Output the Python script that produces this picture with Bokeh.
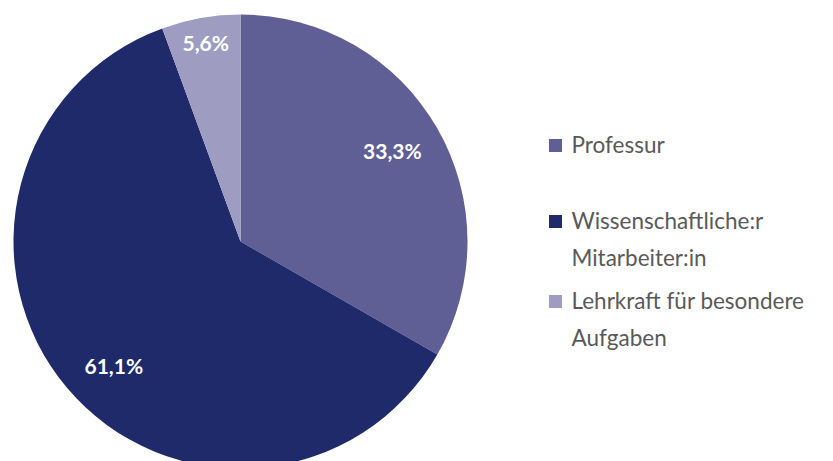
import numpy as np
from bokeh.plotting import figure
from bokeh.models import Range1d
from bokeh.core.properties import value
from bokeh.embed import file_html
from bokeh.resources import INLINE

# ---- data ----
categories = ["Professur", "Wissenschaftliche:r\nMitarbeiter:in", "Lehrkraft für besondere\nAufgaben"]
shares = [33.3, 61.1, 5.6]
labels = ["33,3%", "61,1%", "5,6%"]
colors = ["#5F5F95", "#1E2A6A", "#9E9DC1"]

# ---- layout (style) ----
W, H = 833, 461
label_rf = [0.773, 0.79, 0.875]          # label radius fraction
label_dang = [0.0, 4.9, 0.0]             # label angle tweak (deg)
legend_first_baseline = [144, 220, 300]  # screen px
line_gap = 37

def sx(X):
    return X

def sy(Y):
    return H - Y

p = figure(width=W, height=H, x_range=Range1d(0, W), y_range=Range1d(0, H),
           output_backend="svg", toolbar_location=None, min_border=0)
p.axis.visible = False
p.grid.visible = False
p.outline_line_color = None
p.background_fill_color = "white"
p.border_fill_color = "white"

cx, cy, R = sx(240), sy(241), 227
frac = np.array(shares) / sum(shares)
cum = np.concatenate([[0.0], np.cumsum(frac)])
start = np.pi / 2 - 2 * np.pi * cum[:-1]
end = np.pi / 2 - 2 * np.pi * cum[1:]

p.wedge(x=cx, y=cy, radius=R, start_angle=list(start), end_angle=list(end),
        direction="clock", fill_color=colors, line_color=None)

mid = (start + end) / 2 + np.radians(label_dang)
lx = cx + R * np.array(label_rf) * np.cos(mid)
ly = cy + R * np.array(label_rf) * np.sin(mid) + 3
p.text(x=list(lx), y=list(ly), text=labels, text_color="white",
       text_font=value("Lato"), text_font_style="bold", text_font_size="21px",
       text_align="center", text_baseline="middle")

# legend
sq_x, sq_y = [], []
tx, ty, tt = [], [], []
for i, cat in enumerate(categories):
    b = legend_first_baseline[i]
    sq_x.append(sx(555))
    sq_y.append(sy(b + 1))
    for j, line in enumerate(cat.split("\n")):
        tx.append(sx(571))
        ty.append(sy(b + j * line_gap))
        tt.append(line)
p.scatter(x=sq_x, y=sq_y, marker="square", size=13, fill_color=colors, line_color=None)
p.text(x=tx, y=ty, text=tt, text_color="#595959", text_font=value("Lato"),
       text_font_size="22.5px", text_align="left", text_baseline="alphabetic")

open("out.html", "w").write(file_html(p, INLINE))
